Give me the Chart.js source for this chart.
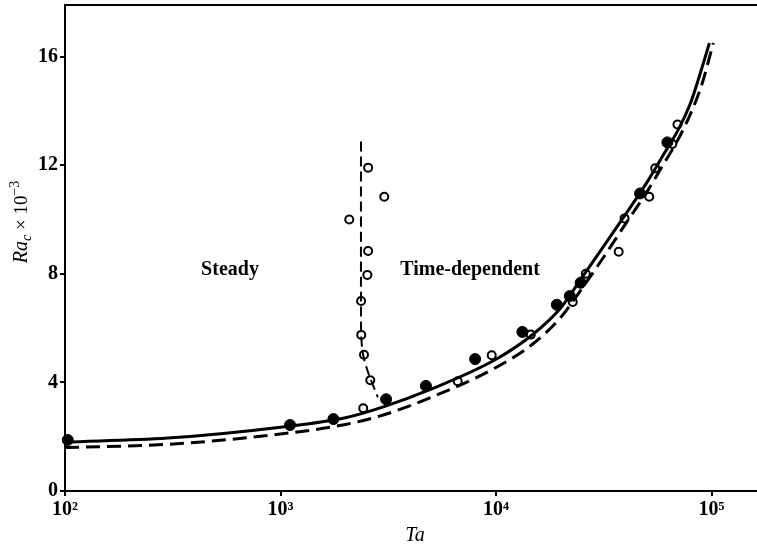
<!doctype html>
<html lang="en">
  <head>
    <meta charset="utf-8">
    <title>Ra_c vs Ta</title>
    <style>
      * { margin: 0; padding: 0; }
      body { background: #fff; }
      .chartBox { width: 757px; height: 550px; }
    </style>
  </head>
  <body>
    <div class="chartBox">
      <canvas id="myChart"></canvas>
    </div>
    <script src="https://cdn.jsdelivr.net/npm/chart.js/dist/chart.umd.min.js"></script>
    <script>
    // data (Ra in units of 10^3)
    const taSolid = [100, 300, 1000, 2000, 3000, 5000, 10000, 15000, 20000, 25000, 31500, 40000, 50000, 60000, 70000, 80000, 90000, 97800];
    const raSolid = [1.8, 1.95, 2.35, 2.7, 3.1, 3.75, 4.85, 5.8, 6.75, 7.85, 9.0, 10.2, 11.35, 12.4, 13.3, 14.3, 15.55, 16.5];

    const taDashed = [100, 300, 1000, 2000, 3000, 5000, 10000, 15000, 20000, 25000, 31500, 40000, 50000, 60000, 70000, 80000, 90000, 102000];
    const raDashed = [1.6, 1.72, 2.1, 2.45, 2.8, 3.45, 4.55, 5.45, 6.4, 7.45, 8.6, 9.85, 11.0, 12.05, 12.95, 13.9, 14.95, 16.5];

    const taBound = [2363, 2363, 2370, 2420, 2555, 2830];
    const raBound = [12.87, 7.0, 5.7, 5.0, 4.35, 3.45];

    const taOpen = [2420, 2610, 2440, 2370, 2366, 2530, 2550, 2085, 3030, 2550, 6640, 9550, 14500, 22700, 26100, 37100, 39500, 51400, 54800, 65800, 69500];
    const raOpen = [3.05, 4.08, 5.02, 5.75, 7.0, 7.96, 8.84, 10.0, 10.84, 11.91, 4.04, 5.0, 5.76, 6.96, 8.0, 8.81, 10.04, 10.84, 11.89, 12.78, 13.5];

    const taFilled = [103, 1107, 1760, 3090, 4730, 8000, 13250, 19150, 22000, 24700, 46600, 62400];
    const raFilled = [1.88, 2.43, 2.65, 3.38, 3.87, 4.86, 5.86, 6.86, 7.18, 7.67, 10.96, 12.84];

    const xTicks = [100, 1000, 10000, 100000];
    const xTickLabels = ['10²', '10³', '10⁴', '10⁵'];
    const yTicks = [0, 4, 8, 12, 16];

    const pts = (xs, ys) => xs.map((x, i) => ({ x: x, y: ys[i] }));
    const serif = "'Liberation Serif', 'DejaVu Serif', serif";

    // frame top line, region labels and axis titles
    const annotations = {
      id: 'annotations',
      afterDraw: (chart) => {
        const { ctx, chartArea: { left, top, right } } = chart;
        ctx.save();
        ctx.strokeStyle = '#000';
        ctx.lineWidth = 2;
        ctx.beginPath();
        ctx.moveTo(left, top);
        ctx.lineTo(right, top);
        ctx.stroke();

        ctx.fillStyle = '#000';
        ctx.textBaseline = 'middle';
        ctx.textAlign = 'center';
        ctx.font = 'bold 20px ' + serif;
        ctx.fillText('Steady', 230, 270);
        ctx.fillText('Time-dependent', 470, 270);

        ctx.font = 'italic 20px ' + serif;
        ctx.fillText('Ta', 415, 536);

        // y title: Ra_c × 10^-3
        ctx.translate(22, 222);
        ctx.rotate(-Math.PI / 2);
        ctx.textAlign = 'left';
        const parts = [
          ['italic 20px ' + serif, 'Ra', 0],
          ['italic 14px ' + serif, 'c', 5],
          ['19px ' + serif, ' × 10', 0],
          ['14px ' + serif, '−3', -7]
        ];
        let w = 0;
        parts.forEach(([f, t]) => { ctx.font = f; w += ctx.measureText(t).width; });
        let xPos = -w / 2;
        parts.forEach(([f, t, dy]) => {
          ctx.font = f;
          ctx.fillText(t, xPos, dy);
          xPos += ctx.measureText(t).width;
        });
        ctx.restore();
      }
    };

    const lineStyle = { pointRadius: 0, fill: false, borderColor: '#000', showLine: true };

    const config = {
      type: 'scatter',
      data: {
        datasets: [
          { ...lineStyle, data: pts(taSolid, raSolid), borderWidth: 3, cubicInterpolationMode: 'monotone' },
          { ...lineStyle, data: pts(taDashed, raDashed), borderWidth: 3, borderDash: [14, 7], cubicInterpolationMode: 'monotone' },
          { ...lineStyle, data: pts(taBound, raBound), borderWidth: 2, borderDash: [10, 5], tension: 0.3 },
          {
            data: pts(taFilled, raFilled), pointRadius: 5.5, pointBackgroundColor: '#000',
            pointBorderColor: '#000', pointBorderWidth: 1, showLine: false, clip: false
          },
          {
            data: pts(taOpen, raOpen), pointRadius: 4, pointBackgroundColor: '#fff',
            pointBorderColor: '#000', pointBorderWidth: 2, showLine: false, clip: false
          }
        ]
      },
      options: {
        responsive: false,
        animation: false,
        maintainAspectRatio: false,
        layout: { autoPadding: false, padding: { top: 5, right: 0, left: 0, bottom: 0 } },
        plugins: { legend: { display: false }, tooltip: { enabled: false } },
        scales: {
          x: {
            type: 'logarithmic',
            min: 100,
            max: 162600,
            afterBuildTicks: (scale) => { scale.ticks = xTicks.map(v => ({ value: v })); },
            afterFit: (scale) => {
              scale.height = 59;
              scale.paddingLeft = 0;
              scale.paddingRight = 0;
            },
            grid: { display: true, drawOnChartArea: false, tickLength: 5, color: '#000', lineWidth: 2 },
            border: { display: true, color: '#000', width: 2 },
            ticks: {
              color: '#000',
              padding: 2,
              maxRotation: 0,
              autoSkip: false,
              font: { family: serif, size: 20, weight: 'bold' },
              callback: (value) => xTickLabels[xTicks.indexOf(value)]
            }
          },
          y: {
            min: 0,
            max: 17.9,
            afterBuildTicks: (scale) => { scale.ticks = yTicks.map(v => ({ value: v })); },
            afterFit: (scale) => {
              scale.width = 65;
              scale.paddingTop = 0;
              scale.paddingBottom = 0;
            },
            grid: { display: true, drawOnChartArea: false, tickLength: 5, color: '#000', lineWidth: 2 },
            border: { display: true, color: '#000', width: 2 },
            ticks: {
              color: '#000',
              padding: 2,
              font: { family: serif, size: 20, weight: 'bold' }
            }
          }
        }
      },
      plugins: [annotations]
    };

    const canvas = document.getElementById('myChart');
    canvas.width = 757;
    canvas.height = 550;
    const myChart = new Chart(canvas, config);
    </script>
  </body>
</html>
